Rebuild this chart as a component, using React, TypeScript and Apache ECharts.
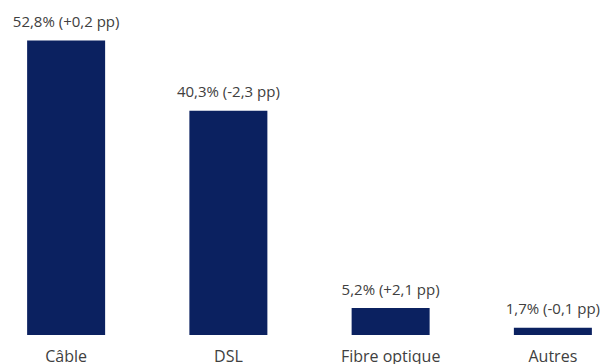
import React, { useEffect, useRef } from "react";
import * as echarts from "echarts";

const categories = ["Câble", "DSL", "Fibre optique", "Autres"];
const shares = [52.8, 40.3, 5.2, 1.7];
const changes = ["+0,2", "-2,3", "+2,1", "-0,1"];

export default function App() {
  const ref = useRef<HTMLDivElement>(null);
  useEffect(() => {
    document.body.style.margin = "0";
    const chart = echarts.init(ref.current!, null, { renderer: "svg" });
    chart.setOption({
      animation: false,
      backgroundColor: "#ffffff",
      grid: { left: 0, right: 0, top: 0, bottom: 28, containLabel: false },
      xAxis: {
        type: "category",
        data: categories,
        axisLine: { show: false },
        axisTick: { show: false },
        axisLabel: {
          color: "#404040",
          fontFamily: "Open Sans",
          fontSize: 16,
          margin: 13,
        },
      },
      yAxis: {
        type: "value",
        min: 0.4,
        max: 60,
        show: false,
        splitLine: { show: false },
      },
      series: [
        {
          type: "bar",
          data: shares,
          barWidth: 78,
          itemStyle: { color: "#0b2160" },
          label: {
            show: true,
            position: "top",
            distance: 12,
            color: "#404040",
            fontFamily: "Open Sans",
            fontSize: 15,
            formatter: (p: any) =>
              `${String(shares[p.dataIndex]).replace(".", ",")}% (${changes[p.dataIndex]} pp)`,
          },
        },
      ],
    });
    return () => chart.dispose();
  }, []);
  return (
    <div
      style={{
        position: "absolute",
        left: 0,
        top: 0,
        width: 603,
        height: 364,
        overflow: "hidden",
        background: "#ffffff",
      }}
    >
      <div
        ref={ref}
        style={{ position: "absolute", left: -15, top: 0, width: 649, height: 364 }}
      />
    </div>
  );
}
